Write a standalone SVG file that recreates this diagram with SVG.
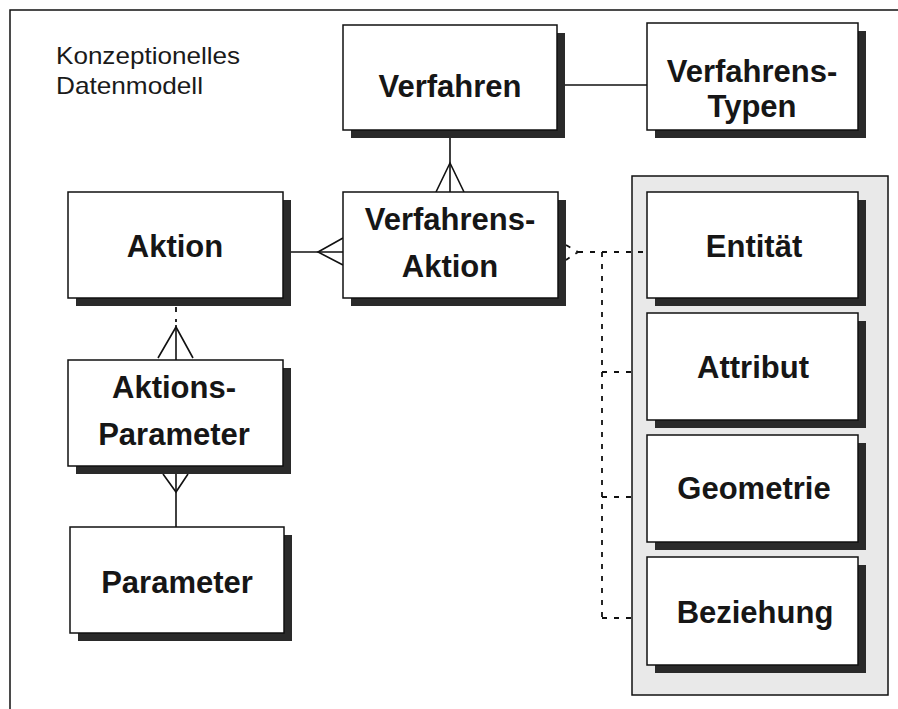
<svg xmlns="http://www.w3.org/2000/svg" width="898" height="709" viewBox="0 0 898 709">
<style>
.box{fill:#fff;stroke:#111;stroke-width:1.5}
.sh{fill:#2a2a2a}
.lbl{font-family:"Liberation Sans",Arial,sans-serif;font-weight:bold;font-size:31px;fill:#161616;text-anchor:middle}
.title{font-family:"Liberation Sans",Arial,sans-serif;font-size:24px;fill:#1a1a1a}
.ln{stroke:#111;stroke-width:1.6;fill:none}
.dash{stroke:#111;stroke-width:1.8;fill:none;stroke-dasharray:5 7}
</style>
<rect x="0" y="0" width="898" height="709" fill="#fff"/>
<path d="M10,709 V10 H898" fill="none" stroke="#111" stroke-width="1.5"/>
<g id="title">
<text class="title" x="56" y="64" textLength="184" lengthAdjust="spacingAndGlyphs">Konzeptionelles</text>
<text class="title" x="56" y="94" textLength="147" lengthAdjust="spacingAndGlyphs">Datenmodell</text>
</g>
<g id="group-container">
<rect x="632" y="176" width="256" height="519" fill="#e9e9e9" stroke="#111" stroke-width="1.5"/>
</g>
<g id="connectors">
<line class="ln" x1="565" y1="85" x2="647" y2="85"/>
<line class="ln" x1="450" y1="138" x2="450" y2="192"/>
<polyline class="ln" points="436,192 450,163 464,192"/>
<line class="ln" x1="291" y1="252" x2="343" y2="252"/>
<polyline class="ln" points="343,238 318,252 343,265"/>
<line class="dash" x1="176" y1="307" x2="176" y2="322"/>
<line class="ln" x1="176" y1="325" x2="176" y2="360"/>
<polyline class="ln" points="158,358 176,327 193,358"/>
<line class="ln" x1="176" y1="474" x2="176" y2="527"/>
<polyline class="ln" points="163,474 176,492 188,474"/>
<polyline class="dash" points="566,245 578,252 566,260" stroke-dasharray="3 3" stroke-width="1.2"/>
<line class="dash" x1="578" y1="252" x2="647" y2="252"/>
<line class="dash" x1="602" y1="252" x2="602" y2="620"/>
<line class="dash" x1="602" y1="372" x2="632" y2="372"/>
<line class="dash" x1="602" y1="497" x2="632" y2="497"/>
<line class="dash" x1="602" y1="618" x2="632" y2="618"/>
</g>
<g id="verfahren">
<rect class="sh" x="351" y="33" width="214" height="105"/>
<rect class="box" x="343" y="25" width="214" height="105"/>
<text class="lbl" x="450" y="97">Verfahren</text>
</g>
<g id="verfahrens-typen">
<rect class="sh" x="655" y="31" width="211" height="107"/>
<rect class="box" x="647" y="23" width="211" height="107"/>
<text class="lbl" x="752" y="82">Verfahrens-</text>
<text class="lbl" x="752" y="117">Typen</text>
</g>
<g id="aktion">
<rect class="sh" x="76" y="200" width="215" height="106"/>
<rect class="box" x="68" y="192" width="215" height="106"/>
<text class="lbl" x="175" y="257">Aktion</text>
</g>
<g id="verfahrens-aktion">
<rect class="sh" x="351" y="200" width="215" height="106"/>
<rect class="box" x="343" y="192" width="215" height="106"/>
<text class="lbl" x="450" y="230">Verfahrens-</text>
<text class="lbl" x="450" y="277">Aktion</text>
</g>
<g id="aktions-parameter">
<rect class="sh" x="76" y="368" width="215" height="106"/>
<rect class="box" x="68" y="360" width="215" height="106"/>
<text class="lbl" x="174" y="398">Aktions-</text>
<text class="lbl" x="174" y="445">Parameter</text>
</g>
<g id="parameter">
<rect class="sh" x="78" y="535" width="214" height="106"/>
<rect class="box" x="70" y="527" width="214" height="106"/>
<text class="lbl" x="177" y="593">Parameter</text>
</g>
<g id="entitaet">
<rect class="sh" x="655" y="200" width="211" height="106"/>
<rect class="box" x="647" y="192" width="211" height="106"/>
<text class="lbl" x="754" y="257">Entität</text>
</g>
<g id="attribut">
<rect class="sh" x="655" y="321" width="211" height="107"/>
<rect class="box" x="647" y="313" width="211" height="107"/>
<text class="lbl" x="753" y="378">Attribut</text>
</g>
<g id="geometrie">
<rect class="sh" x="655" y="443" width="211" height="107"/>
<rect class="box" x="647" y="435" width="211" height="107"/>
<text class="lbl" x="754" y="499">Geometrie</text>
</g>
<g id="beziehung">
<rect class="sh" x="655" y="565" width="211" height="108"/>
<rect class="box" x="647" y="557" width="211" height="108"/>
<text class="lbl" x="755" y="623">Beziehung</text>
</g>
</svg>
